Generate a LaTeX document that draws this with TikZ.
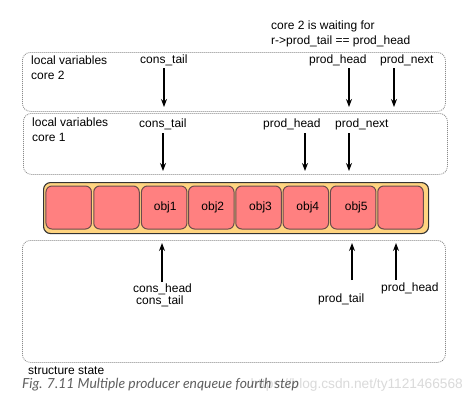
\documentclass[tikz,border=0pt]{standalone}
\usepackage{fontspec}
\setmainfont{Liberation Sans}
\newfontfamily\capfont{Lato}
\usetikzlibrary{arrows.meta}
\definecolor{barfill}{HTML}{FFD480}
\definecolor{cellfill}{HTML}{FF8080}
\definecolor{celldraw}{HTML}{6B4B4B}
\definecolor{dotgray}{HTML}{8A8A8A}
\definecolor{capgray}{HTML}{5F5F5F}
\definecolor{wmgray}{HTML}{DADADA}
\begin{document}
\begin{tikzpicture}[x=1pt,y=-1pt,font=\fontsize{12}{14}\selectfont,
  panel/.style={draw=dotgray,dash pattern=on 1pt off 1pt,line width=0.8pt,rounded corners=8pt,anchor=north west,inner sep=0pt},
  bar/.style={draw=black!80,fill=barfill,line width=1.1pt,rounded corners=7pt,anchor=north west,inner sep=0pt},
  cell/.style={draw=celldraw,fill=cellfill,line width=1pt,rounded corners=6pt,minimum width=45.5pt,minimum height=43pt,inner sep=0pt},
  lbl/.style={anchor=base west,inner sep=0pt},
  ptr/.style={-{Stealth[length=8pt,width=6pt]},line width=1.3pt}]
\useasboundingbox[fill=white] (0,0) rectangle (472,400);
% panels
\node[panel,minimum width=423pt,minimum height=59pt] (core2) at (22,52) {};
\node[panel,minimum width=424pt,minimum height=61pt] (core1) at (23,113) {};
\node[bar,minimum width=385pt,minimum height=51pt] (ring) at (43,182) {};
\node[panel,minimum width=423pt,minimum height=122pt] (state) at (22,240) {};
% cells
\node[cell] (c1) at (68.7,207.5) {};
\node[cell] (c2) at (116.5,207.5) {};
\node[cell] (c3) at (164.2,207.5) {\hspace*{2pt}obj1};
\node[cell] (c4) at (211.3,207.5) {\hspace*{3pt}obj2};
\node[cell] (c5) at (258.5,207.5) {\hspace*{4pt}obj3};
\node[cell] (c6) at (305.8,207.5) {\hspace*{4pt}obj4};
\node[cell] (c7) at (353.2,207.5) {\hspace*{6pt}obj5};
\node[cell] (c8) at (400.5,207.5) {};
% top note
\node[lbl] (note1) at (271,29.5) {core 2 is waiting for};
\node[lbl] (note2) at (271,44.3) {r->prod\_tail == prod\_head};
% core 2
\node[lbl] (c2a) at (31,64) {local variables};
\node[lbl] (c2b) at (31,79) {core 2};
\node[lbl] (c2ct) at (140,63.5) {cons\_tail};
\node[lbl] (c2ph) at (309,63.5) {prod\_head};
\node[lbl] (c2pn) at (380,63.5) {prod\_next};
\coordinate (a1s) at (164,68); \coordinate (a1e) at (164,107);
\coordinate (a2s) at (349,68); \coordinate (a2e) at (349,107);
\coordinate (a3s) at (394,68); \coordinate (a3e) at (394,107);
\draw[ptr] (a1s) -- (a1e);
\draw[ptr] (a2s) -- (a2e);
\draw[ptr] (a3s) -- (a3e);
% core 1
\node[lbl] (c1a) at (32,126.7) {local variables};
\node[lbl] (c1b) at (32,141.7) {core 1};
\node[lbl] (c1ct) at (139,127.3) {cons\_tail};
\node[lbl] (c1ph) at (263,127.3) {prod\_head};
\node[lbl] (c1pn) at (335,127.3) {prod\_next};
\coordinate (b1s) at (163,133); \coordinate (b1e) at (163,171);
\coordinate (b2s) at (305,133); \coordinate (b2e) at (305,171);
\coordinate (b3s) at (349,133); \coordinate (b3e) at (349,171);
\draw[ptr] (b1s) -- (b1e);
\draw[ptr] (b2s) -- (b2e);
\draw[ptr] (b3s) -- (b3e);
% structure state
\node[lbl] (sch) at (133,292.7) {cons\_head};
\node[lbl] (sct) at (136,304.7) {cons\_tail};
\node[lbl] (spt) at (318,302.3) {prod\_tail};
\node[lbl] (sph) at (381,291.7) {prod\_head};
\coordinate (d1s) at (162,282); \coordinate (d1e) at (162,243);
\coordinate (d2s) at (352,280); \coordinate (d2e) at (352,243);
\coordinate (d3s) at (396,280); \coordinate (d3e) at (396,243);
\draw[ptr] (d1s) -- (d1e);
\draw[ptr] (d2s) -- (d2e);
\draw[ptr] (d3s) -- (d3e);
\node[lbl] (sst) at (28,374) {structure state};
% watermark and caption
\node[anchor=base east,inner sep=0pt,text=wmgray,font=\fontsize{13.7}{16}\selectfont] (wm) at (463,388) {https://blog.csdn.net/ty1121466568};
\node[lbl,text=capgray,font=\capfont\itshape\fontsize{13.9}{16}\selectfont] (cap) at (22,388) {Fig. 7.11 Multiple producer enqueue fourth step};
\end{tikzpicture}
\end{document}
